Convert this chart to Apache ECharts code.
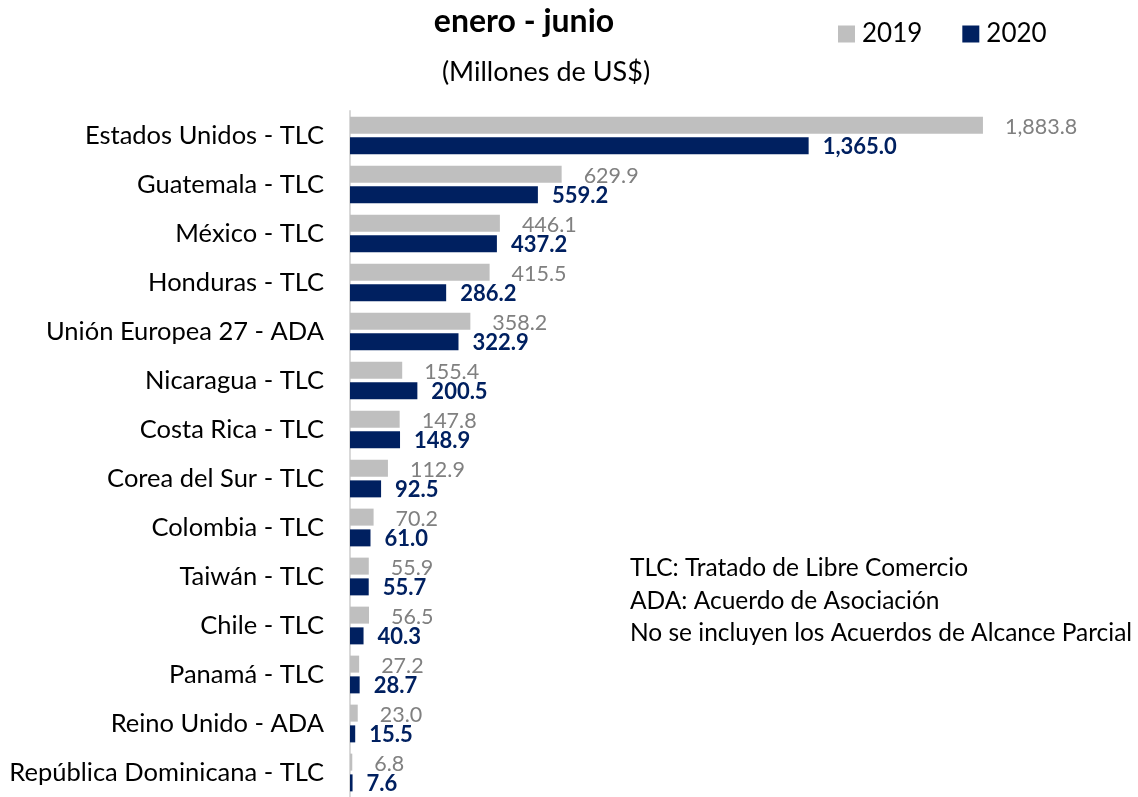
<!DOCTYPE html>
<html><head><meta charset="utf-8">
<script src="https://cdn.jsdelivr.net/npm/echarts@6/dist/echarts.min.js"></script>
<style>html,body{margin:0;padding:0;background:#fff}#c{width:1138px;height:797px}</style>
</head><body><div id="c"></div>
<script>
const categories = ["Estados Unidos - TLC","Guatemala - TLC","México - TLC","Honduras - TLC","Unión Europea 27 - ADA","Nicaragua - TLC","Costa Rica - TLC","Corea del Sur - TLC","Colombia - TLC","Taiwán - TLC","Chile - TLC","Panamá - TLC","Reino Unido - ADA","República Dominicana - TLC"];
const values2019 = [1883.8,629.9,446.1,415.5,358.2,155.4,147.8,112.9,70.2,55.9,56.5,27.2,23.0,6.8];
const values2020 = [1365.0,559.2,437.2,286.2,322.9,200.5,148.9,92.5,61.0,55.7,40.3,28.7,15.5,7.6];
const notes = ["TLC: Tratado de Libre Comercio","ADA: Acuerdo de Asociación","No se incluyen los Acuerdos de Alcance Parcial"];
const FONT = "Lato";
const fmt = v => v.toLocaleString('en-US',{minimumFractionDigits:1,maximumFractionDigits:1});
const chart = echarts.init(document.getElementById('c'));
chart.setOption({
  animation:false,
  textStyle:{fontFamily:FONT},
  title:[
    {text:"enero - junio",left:519,top:1,textAlign:'center',textStyle:{fontFamily:FONT,fontSize:32,fontWeight:'bold',color:'#000'}},
    {text:"(Millones de US$)",left:541,top:54,textAlign:'center',textStyle:{fontFamily:FONT,fontSize:27,fontWeight:'normal',color:'#000'}},
    {text:notes.join('\n'),left:625,top:547,textStyle:{fontFamily:FONT,fontSize:24.5,fontWeight:'normal',color:'#000',lineHeight:32.5}}
  ],
  legend:{left:833,top:16,itemWidth:17,itemHeight:17,itemGap:40,icon:'rect',
    textStyle:{fontFamily:FONT,fontSize:26,color:'#000',padding:[0,0,0,2]},
    data:['2019','2020']},
  grid:{left:350,right:116,top:111,bottom:-7},
  xAxis:{type:'value',min:0,max:2000,show:false},
  yAxis:{type:'category',inverse:true,data:categories,
    axisLine:{show:true,lineStyle:{color:'#d9d9d9',width:2}},axisTick:{show:false},
    axisLabel:{fontFamily:FONT,fontSize:25.5,color:'#000',margin:26}},
  series:[
    {name:'2019',type:'bar',data:values2019,barWidth:17,barGap:'22%',itemStyle:{color:'#bfbfbf'},
     label:{show:true,position:'right',distance:22,offset:[0,2],formatter:p=>fmt(p.value),fontFamily:FONT,fontSize:21.5,color:'#808080'}},
    {name:'2020',type:'bar',data:values2020,barWidth:17,itemStyle:{color:'#002060'},
     label:{show:true,position:'right',distance:14,offset:[0,1],formatter:p=>fmt(p.value),fontFamily:FONT,fontSize:22,fontWeight:'bold',color:'#002060'}}
  ]
});
</script></body></html>
